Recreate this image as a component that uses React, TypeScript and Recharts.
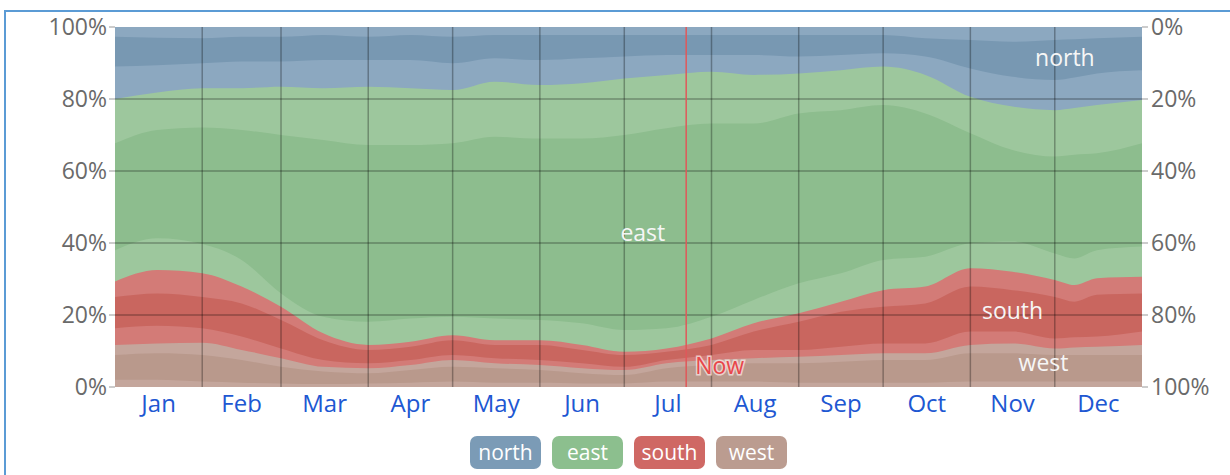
import React from 'react';
import { ComposedChart, Area, XAxis, YAxis, ReferenceLine, ReferenceDot, Legend } from 'recharts';

// Day of year sample points
const days = [0, 15, 31, 45, 59, 74, 90, 105, 120, 135, 151, 166, 181, 196, 212, 227, 243, 258, 273, 288, 304, 319, 334, 341, 349, 365];

// Cumulative boundaries (percent), from top to bottom
const northCoreTop = [97.3, 97, 96.9, 97.3, 97.3, 97.8, 97.3, 97.8, 97.3, 97.8, 97.8, 97.8, 97.8, 97.8, 97.8, 97.8, 97.8, 97.8, 97.8, 96.9, 96.4, 95.9, 96.4, 96.6, 96.9, 97.3];
const northCoreBottom = [89, 89.4, 89.9, 90.4, 90.4, 90.8, 90.8, 90.8, 89.9, 91.3, 90.8, 91.3, 91.8, 92.2, 92.2, 92.2, 91.8, 92.2, 92.7, 91.8, 88.5, 86.2, 85.3, 86, 87.1, 88];
const northEastBoundary = [80, 81.8, 83, 83, 83.4, 83, 83.4, 83, 82.5, 84.8, 83.9, 84.4, 85.7, 86.7, 87.6, 86.7, 87.1, 88, 89, 86.7, 80.6, 77.9, 76.9, 77.5, 78.3, 79.7];
const eastCoreTop = [67.7, 71.4, 72.1, 71.4, 70, 68.6, 67.2, 67.2, 67.7, 69.5, 69, 69, 70, 71.9, 73.2, 73.2, 76, 76.9, 78.3, 76, 70.5, 65.8, 64, 64.5, 64.9, 67.7];
const eastCoreBottom = [38, 41.3, 39.7, 35.3, 26, 19.5, 18.1, 19, 19.5, 19, 18.6, 17.7, 15.8, 16.3, 19.5, 24.2, 28.8, 31.6, 35.3, 36.2, 39.9, 40.4, 37.1, 35.7, 38, 39];
const eastSouthBoundary = [29.3, 32.5, 31.6, 27.9, 22.3, 14.9, 11.7, 12.6, 14.4, 13, 13, 11.7, 9.8, 10.7, 13.5, 17.7, 20.5, 23.7, 26.9, 27.9, 33, 32, 29.7, 28.3, 30.2, 30.6];
const southCoreTop = [25, 26, 25, 23.2, 18.6, 13, 10.3, 11.2, 13, 11.7, 11.7, 10.3, 8.9, 9.8, 11.7, 15.4, 18.1, 20.9, 22.3, 23.2, 27.9, 26.9, 25, 23.7, 25.6, 26];
const southCoreBottom = [16.3, 17, 16.3, 14, 10.7, 7.5, 6.6, 7.5, 8.9, 8, 7.5, 6.6, 5.6, 7.5, 8.9, 10.3, 10.3, 11.2, 12.1, 12.1, 15.4, 15.4, 13.5, 13.8, 14, 15.4];
const southWestBoundary = [11.7, 12.1, 12.3, 10.3, 8, 5.6, 5.2, 6.1, 7.5, 6.6, 6.1, 5.2, 4.7, 6.6, 7.5, 8, 8.4, 8.9, 9.4, 9.4, 11.7, 12.1, 10.7, 11, 11.2, 11.7];
const westCoreTop = [8.9, 9.4, 8.9, 7.5, 5.6, 4.3, 3.8, 4.7, 5.6, 5.2, 4.7, 3.8, 3.3, 5.2, 6.1, 6.6, 6.6, 7, 7.5, 7.5, 9.4, 9.4, 8.9, 8.9, 8.9, 8.9];
const westCoreBottom = [2, 2, 1.5, 1.2, 1, 0.8, 1, 1.2, 1.5, 1.2, 1.2, 1, 1, 1.5, 1.5, 1.5, 1.2, 1.2, 1.2, 1.2, 1.5, 1.5, 1.5, 1.5, 1.5, 1.5];

const monthLabels = ['Jan', 'Feb', 'Mar', 'Apr', 'May', 'Jun', 'Jul', 'Aug', 'Sep', 'Oct', 'Nov', 'Dec'];
const monthStarts = [0, 31, 59, 90, 120, 151, 181, 212, 243, 273, 304, 334, 365];
const percentTicks = [0, 20, 40, 60, 80, 100];
const nowDay = 203;

const directions = ['north', 'east', 'south', 'west'];
const legendColors = ['#7b9bb6', '#8cbf8e', '#cf6864', '#bb9c90'];

const C = {
  northDark: '#7898b2',
  northLight: '#8ca8c0',
  eastLight: '#9dc79d',
  eastDark: '#8dbd8e',
  southLight: '#d37b77',
  southDark: '#c9665f',
  westLight: '#c4a69c',
  westDark: '#b9998c',
};

const data = days.map((d, i) => ({
  day: d,
  top: 100,
  b11: northCoreTop[i],
  b10: northCoreBottom[i],
  b9: northEastBoundary[i],
  b8: eastCoreTop[i],
  b7: eastCoreBottom[i],
  b6: eastSouthBoundary[i],
  b5: southCoreTop[i],
  b4: southCoreBottom[i],
  b3: southWestBoundary[i],
  b2: westCoreTop[i],
  b1: westCoreBottom[i],
}));

const layers: [string, string][] = [
  ['b11', C.northDark],
  ['b10', C.northLight],
  ['b9', C.eastLight],
  ['b8', C.eastDark],
  ['b7', C.eastLight],
  ['b6', C.southLight],
  ['b5', C.southDark],
  ['b4', C.southLight],
  ['b3', C.westLight],
  ['b2', C.westDark],
  ['b1', C.westLight],
];

const monthMids = monthLabels.map((_, i) => (monthStarts[i] + monthStarts[i + 1]) / 2);
const interiorStarts = monthStarts.slice(1, -1);

const seriesLabels = [
  { name: 'north', day: 337.6, pct: 91.4 },
  { name: 'east', day: 187.6, pct: 42.8 },
  { name: 'south', day: 319, pct: 21.1 },
  { name: 'west', day: 330, pct: 6.8 },
];

const gridStroke = 'rgba(0,0,0,0.3)';
const FONT = "'Open Sans', 'Noto Sans', sans-serif";

const LegendContent = () => (
  <div style={{ display: 'flex', gap: 11, fontFamily: FONT }}>
    {directions.map((d, i) => (
      <div
        key={d}
        style={{
          width: 71,
          height: 33,
          borderRadius: 7,
          background: legendColors[i],
          color: '#fff',
          fontSize: 21,
          lineHeight: '33px',
          textAlign: 'center',
        }}
      >
        {d}
      </div>
    ))}
  </div>
);

export default function App() {
  return (
    <div style={{ position: 'fixed', left: 0, top: 0, width: 1230, height: 475, background: '#fff', fontFamily: FONT }}>
      <div
        style={{
          position: 'absolute',
          left: 4,
          top: 10,
          width: 1230,
          height: 470,
          borderLeft: '2px solid #5b9bd5',
          borderTop: '2px solid #5b9bd5',
          boxSizing: 'border-box',
        }}
      />
      <ComposedChart
        width={1230}
        height={475}
        data={data}
        margin={{ top: 27, right: 0, bottom: 0, left: 0 }}
        style={{ position: 'absolute', left: 0, top: 0, fontFamily: FONT }}
      >
        <XAxis
          xAxisId="b"
          dataKey="day"
          type="number"
          domain={[0, 365]}
          ticks={interiorStarts}
          height={0}
          axisLine={false}
          tickSize={8}
          tickLine={{ stroke: gridStroke, strokeWidth: 1.5 }}
          tickFormatter={() => ''}
        />
        <XAxis
          xAxisId="m"
          dataKey="day"
          type="number"
          domain={[0, 365]}
          ticks={monthMids}
          height={88}
          axisLine={false}
          tickLine={false}
          tickSize={0}
          tickMargin={8}
          interval={0}
          tick={{ fill: '#2057d2', fontSize: 24 }}
          tickFormatter={(v: number) => monthLabels[monthMids.indexOf(v)]}
        />
        <YAxis
          yAxisId="l"
          type="number"
          domain={[0, 100]}
          ticks={percentTicks}
          width={115}
          axisLine={false}
          tickSize={6}
          tickMargin={2}
          tickLine={{ stroke: '#999' }}
          tick={{ fill: '#6a6a6a', fontSize: 23 }}
          tickFormatter={(v: number) => `${v}%`}
        />
        <YAxis
          yAxisId="r"
          orientation="right"
          type="number"
          domain={[0, 100]}
          reversed
          ticks={percentTicks}
          width={88}
          axisLine={false}
          tickSize={6}
          tickMargin={3}
          tickLine={{ stroke: '#999' }}
          tick={{ fill: '#6a6a6a', fontSize: 23 }}
          tickFormatter={(v: number) => `${v}%`}
        />
        {/* full background layer (north tint), on the reversed right axis */}
        <Area
          xAxisId="b"
          yAxisId="r"
          type="monotone"
          dataKey="top"
          baseValue={0}
          fill={C.northLight}
          fillOpacity={1}
          stroke="none"
          isAnimationActive={false}
          dot={false}
          activeDot={false}
        />
        {layers.map(([key, color]) => (
          <Area
            key={key}
            xAxisId="b"
            yAxisId="l"
            type="monotone"
            dataKey={key}
            baseValue={0}
            fill={color}
            fillOpacity={1}
            stroke="none"
            isAnimationActive={false}
            dot={false}
            activeDot={false}
          />
        ))}
        {[20, 40, 60, 80].map((v) => (
          <ReferenceLine key={`h${v}`} xAxisId="b" yAxisId="l" y={v} stroke={gridStroke} strokeWidth={1.5} />
        ))}
        {interiorStarts.map((v) => (
          <ReferenceLine key={`v${v}`} xAxisId="b" yAxisId="l" x={v} stroke={gridStroke} strokeWidth={1.5} />
        ))}
        <ReferenceLine
          xAxisId="b"
          yAxisId="l"
          x={nowDay}
          stroke="#e0585a"
          strokeWidth={1.5}
          label={(props: any) => {
            const vb = props.viewBox || {};
            return (
              <text
                x={vb.x + 9}
                y={vb.y + vb.height - 13}
                fill="#e8474a"
                fontSize={23}
                fontFamily={FONT}
                stroke="rgba(255,235,235,0.7)"
                strokeWidth={3}
                paintOrder="stroke"
              >
                Now
              </text>
            );
          }}
        />
        {seriesLabels.map((s) => (
          <ReferenceDot
            key={s.name}
            xAxisId="b"
            yAxisId="l"
            x={s.day}
            y={s.pct}
            r={0}
            fill="none"
            stroke="none"
            label={{ value: s.name, position: 'center', fill: '#f6f6f6', fontSize: 23, fontFamily: FONT }}
          />
        ))}
        <Legend
          layout="horizontal"
          verticalAlign="middle"
          align="center"
          content={<LegendContent />}
          wrapperStyle={{ position: 'absolute', left: 470, top: 436, width: 330, height: 33 }}
        />
      </ComposedChart>
    </div>
  );
}
